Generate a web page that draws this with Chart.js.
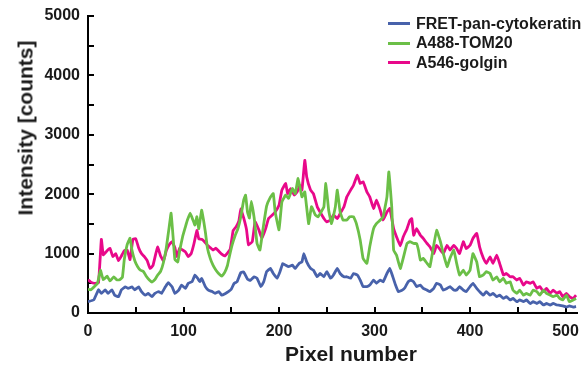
<!DOCTYPE html>
<html>
<head>
<meta charset="utf-8">
<script src="https://cdn.jsdelivr.net/npm/chart.js@4/dist/chart.umd.min.js"></script>
<style>
  body { margin: 0; background: #fff; }
  #wrap { position: relative; width: 585px; height: 366px; font-family: "Liberation Sans", Arial, sans-serif; color: #1a1a1a; }
  #legend { position: absolute; left: 388px; top: 14px; font-size: 16px; font-weight: bold; }
  .item { display: flex; align-items: center; height: 19.5px; white-space: nowrap; }
  .swatch { width: 22px; height: 3px; margin-right: 6px; }
  .axis-title { position: absolute; font-size: 21px; font-weight: bold; white-space: nowrap; line-height: 1; }
  #ytitle { left: 25px; top: 128px; transform: translate(-50%, -50%) rotate(-90deg); }
  #xtitle { left: 351px; top: 353px; transform: translate(-50%, -50%); }
</style>
</head>
<body>
<div id="wrap">
  <canvas id="chart" width="585" height="366"></canvas>
  <div id="legend"></div>
  <div class="axis-title" id="ytitle">Intensity [counts]</div>
  <div class="axis-title" id="xtitle">Pixel number</div>
</div>
<script>
// line profile values (pixel number -> counts)
const fretX = [0,6,11,14,18,21,25,28,32,35,39,42,46,49,53,56,60,63,67,70,74,77,81,84,88,91,95,98,102,105,109,112,115,117,119,123,126,130,133,137,140,144,147,150,153,156,160,163,167,170,174,177,181,184,187,191,194,198,201,204,207,210,214,217,221,224,226,229,233,236,240,243,247,250,254,257,261,264,268,271,275,278,282,285,288,292,295,299,302,306,309,313,316,318,322,325,329,332,335,338,341,344,348,351,355,358,362,365,369,372,376,379,383,386,389,393,396,400,403,407,410,414,417,421,424,428,431,435,438,442,445,449,452,456,459,463,466,470,473,477,480,484,487,491,494,497,501,504,508,511];
const fretY = [190,220,390,330,390,330,390,300,275,390,440,415,440,390,440,360,300,330,275,330,360,330,440,510,440,330,385,470,415,500,527,640,580,527,580,440,385,360,330,360,300,330,360,400,500,525,680,690,570,550,610,585,445,525,695,750,665,585,695,835,805,780,805,750,835,860,1000,860,750,720,610,665,610,695,585,640,750,665,610,610,585,665,640,555,445,445,470,555,500,555,525,665,750,665,470,360,385,430,520,555,525,445,470,415,385,360,415,500,470,385,415,445,385,385,445,385,360,445,500,415,360,300,360,300,330,275,300,245,275,220,245,190,220,190,220,160,190,160,190,135,160,135,160,135,130,120,100,120,100,110];

const tomX = [0,3,7,10,13,16,20,23,27,30,33,36,38,41,44,46,49,52,55,58,61,64,67,70,73,76,79,82,85,87,89,91,94,96,99,102,104,107,110,112,114,116,119,121,123,125,128,131,134,137,140,143,146,148,151,154,157,160,163,165,167,169,171,174,177,180,184,187,191,194,196,200,203,207,210,214,217,220,224,227,231,234,238,241,244,247,249,252,255,259,261,264,267,271,274,278,281,285,288,292,295,299,302,306,309,313,315,318,320,323,327,330,334,337,341,344,346,348,351,355,358,362,365,369,372,376,379,383,386,389,393,396,400,403,407,410,414,417,421,424,428,431,435,438,442,445,449,452,456,459,463,466,470,473,477,480,484,487,491,494,497,501,504,508,511];
const tomY = [400,390,450,500,720,560,620,540,610,560,560,600,900,1150,1260,1060,880,780,720,700,620,560,520,560,640,700,850,1100,1450,1680,1300,900,860,1050,1280,1450,1560,1680,1560,1480,1620,1420,1730,1560,1350,1100,920,800,720,660,620,680,800,950,1150,1300,1420,1620,1900,1985,1700,1600,1880,1600,1170,1060,1500,1800,1950,2010,1700,1400,1870,1985,1930,2095,2010,2265,1955,2040,1505,1790,1650,1620,1700,1790,2180,1730,1505,1790,2070,1700,1565,1565,1620,1620,1505,1230,920,835,1115,1420,1505,1565,1620,1955,2375,1790,1060,975,750,920,1170,1200,1170,1170,1060,890,920,835,780,1140,1395,1200,1000,780,920,1060,835,640,720,640,720,1000,860,610,640,695,665,555,610,525,585,500,525,385,330,385,300,330,300,385,360,300,385,330,300,275,300,245,220,300,190,220,245];

const golX = [0,3,7,11,14,16,20,23,26,29,32,35,38,41,44,47,50,53,56,59,62,65,68,71,73,76,79,82,85,88,91,93,96,99,102,105,108,111,114,116,119,122,125,128,131,134,137,140,143,146,149,152,155,158,160,163,166,168,172,175,179,182,186,189,193,196,200,203,207,209,212,216,219,222,224,227,229,233,236,240,243,247,250,254,257,261,264,268,271,275,278,282,285,288,292,295,299,302,306,309,313,316,320,323,327,330,334,337,339,341,344,348,351,355,358,362,365,369,372,376,379,383,386,389,393,396,400,403,407,410,414,417,421,424,428,431,435,438,442,445,449,452,456,459,463,466,470,473,477,480,484,487,491,494,497,501,504,508,511];
const golY = [560,520,500,510,1240,980,1050,1090,950,1000,880,960,1050,1060,900,1240,1250,1100,1000,950,880,750,800,1000,1110,960,880,1050,1150,1200,1100,950,1090,1060,1030,950,1000,1170,1390,1250,1240,1200,1140,1100,1060,1090,1040,990,960,1010,1080,1390,1450,1550,1750,1600,1400,1150,1200,1535,1395,1255,1420,1590,1650,1700,1815,2070,2180,2010,2095,1985,2040,2150,2070,2570,2290,2070,2010,1790,1700,1590,1535,1565,1650,1590,1675,1790,1955,2070,2150,2320,2180,2210,2040,1955,1760,1900,1730,1565,1700,1760,1420,1285,1130,1280,1420,1560,1590,1310,1420,1310,1255,1170,1115,1000,1140,1060,1000,1140,1060,1140,1085,1000,1200,1085,1140,1255,1340,1115,920,835,945,835,975,835,640,665,610,610,555,585,470,525,500,525,415,445,360,415,330,385,330,360,275,330,275,245,300];

// tick positions (labels only on the hundreds / thousands)
const xTicks = [0, 50, 100, 150, 200, 250, 300, 350, 400, 450, 500];
const yTicks = [0, 500, 1000, 1500, 2000, 2500, 3000, 3500, 4000, 4500, 5000];

const seriesNames = ['FRET-pan-cytokeratin', 'A488-TOM20', 'A546-golgin'];
const seriesColors = ['#4862ab', '#6bbf47', '#e8088a'];
const seriesX = [fretX, tomX, golX];
const seriesY = [fretY, tomY, golY];

const textColor = '#1a1a1a';
const fontFamily = '"Liberation Sans", Arial, sans-serif';

const datasets = seriesNames.map((name, i) => ({
  label: name,
  data: seriesX[i].map((x, j) => ({ x: x, y: seriesY[i][j] })),
  borderColor: seriesColors[i],
  borderWidth: 2.8,
  pointRadius: 0,
  tension: 0.1,
  fill: false
}));

// html legend, one entry per row
document.querySelector('#legend').innerHTML = seriesNames.map((name, i) =>
  `<div class="item"><span class="swatch" style="background:${seriesColors[i]}"></span>${name}</div>`
).join('');

new Chart(document.querySelector('#chart').getContext('2d'), {
  type: 'line',
  data: { datasets: datasets },
  options: {
    responsive: false,
    devicePixelRatio: 1,
    animation: false,
    layout: { padding: { top: 16, right: 8, bottom: 0, left: 0 } },
    plugins: { legend: { display: false }, tooltip: { enabled: false } },
    scales: {
      x: {
        type: 'linear',
        min: 0,
        max: 512,
        border: { color: '#000', width: 2 },
        grid: { drawOnChartArea: false, drawTicks: true, tickLength: -6, color: '#000', lineWidth: 2 },
        afterBuildTicks: s => { s.ticks = xTicks.map(v => ({ value: v })); },
        afterFit: s => { s.height = 53; s.paddingLeft = 0; s.paddingRight = 0; },
        ticks: {
          includeBounds: false,
          autoSkip: false,
          maxRotation: 0,
          padding: 15,
          color: textColor,
          font: { family: fontFamily, size: 16, weight: 'bold' },
          callback: v => (v % 100 === 0 ? v : '')
        },
        title: { display: false }
      },
      y: {
        min: 0,
        max: 5000,
        border: { color: '#000', width: 2 },
        grid: { drawOnChartArea: false, drawTicks: true, tickLength: -6, color: '#000', lineWidth: 2 },
        afterBuildTicks: s => { s.ticks = yTicks.map(v => ({ value: v })); },
        afterFit: s => { s.width = 88; s.paddingTop = 0; s.paddingBottom = 0; },
        ticks: {
          autoSkip: false,
          padding: 14,
          color: textColor,
          font: { family: fontFamily, size: 16, weight: 'bold' },
          callback: v => (v % 1000 === 0 ? v : '')
        },
        title: { display: false }
      }
    }
  }
});
</script>
</body>
</html>
